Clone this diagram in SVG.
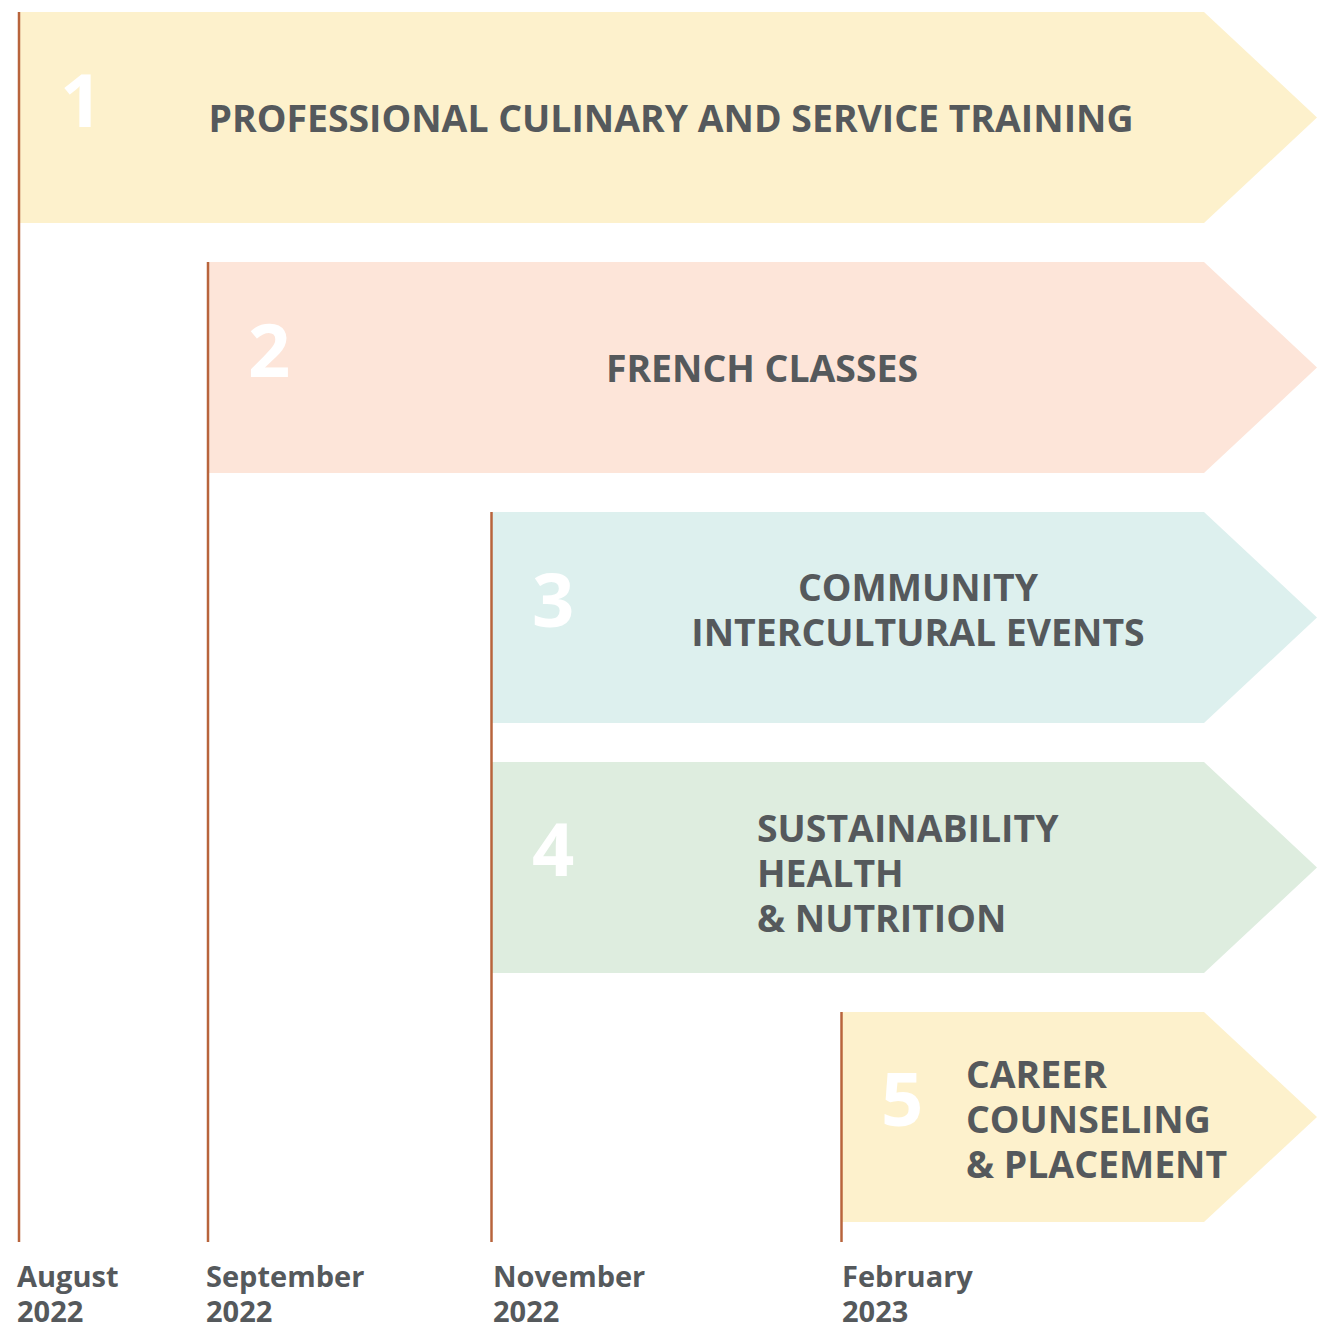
<svg xmlns="http://www.w3.org/2000/svg" width="1335" height="1324" viewBox="0 0 1335 1324">
  <style>
    .label { font-family: "Open Sans", "Liberation Sans", sans-serif; font-weight: bold; font-size: 37.4px; fill: #55595c; }
    .num { font-family: "Open Sans", "Liberation Sans", sans-serif; font-weight: bold; font-size: 74px; fill: #ffffff; }
    .date { font-family: "Open Sans", "Liberation Sans", sans-serif; font-weight: bold; font-size: 29px; fill: #55595c; }
    .mark { stroke: #b8643c; stroke-width: 2.5; fill: none; }
  </style>
  <rect width="1335" height="1324" fill="#ffffff"/>

  <g id="phase1">
    <polygon points="19,12 1204,12 1317,117.5 1204,223 19,223" fill="#fdf1cc"/>
    <text class="num" x="60" y="127">1</text>
    <text class="label" x="671" y="132" text-anchor="middle">PROFESSIONAL CULINARY AND SERVICE TRAINING</text>
  </g>

  <g id="phase2">
    <polygon points="208,262 1204,262 1317,367.5 1204,473 208,473" fill="#fde5d9"/>
    <text class="num" x="248" y="377">2</text>
    <text class="label" x="762" y="382" text-anchor="middle">FRENCH CLASSES</text>
  </g>

  <g id="phase3">
    <polygon points="492,512 1204,512 1317,617.5 1204,723 492,723" fill="#ddf0ee"/>
    <text class="num" x="532" y="627">3</text>
    <text class="label" text-anchor="middle"><tspan x="918" y="601">COMMUNITY</tspan><tspan x="918" y="646">INTERCULTURAL EVENTS</tspan></text>
  </g>

  <g id="phase4">
    <polygon points="492,762 1204,762 1317,867.5 1204,973 492,973" fill="#deeddf"/>
    <text class="num" x="532" y="876">4</text>
    <text class="label"><tspan x="757" y="842">SUSTAINABILITY</tspan><tspan x="757" y="887">HEALTH</tspan><tspan x="757" y="932">&amp; NUTRITION</tspan></text>
  </g>

  <g id="phase5">
    <polygon points="842,1012 1204,1012 1317,1117 1204,1222 842,1222" fill="#fdf1cc"/>
    <text class="num" x="881" y="1126">5</text>
    <text class="label"><tspan x="966" y="1088">CAREER</tspan><tspan x="966" y="1133">COUNSELING</tspan><tspan x="966" y="1178">&amp; PLACEMENT</tspan></text>
  </g>

  <g id="connectors">
    <line class="mark" x1="19" y1="12" x2="19" y2="1242"/>
    <line class="mark" x1="208" y1="262" x2="208" y2="1242"/>
    <line class="mark" x1="491.5" y1="512" x2="491.5" y2="1242"/>
    <line class="mark" x1="841.5" y1="1012" x2="841.5" y2="1242"/>
  </g>

  <g id="dates">
    <text class="date"><tspan x="17" y="1287">August</tspan><tspan x="17" y="1322">2022</tspan></text>
    <text class="date"><tspan x="206" y="1287">September</tspan><tspan x="206" y="1322">2022</tspan></text>
    <text class="date"><tspan x="493" y="1287">November</tspan><tspan x="493" y="1322">2022</tspan></text>
    <text class="date"><tspan x="842" y="1287">February</tspan><tspan x="842" y="1322">2023</tspan></text>
  </g>
</svg>
